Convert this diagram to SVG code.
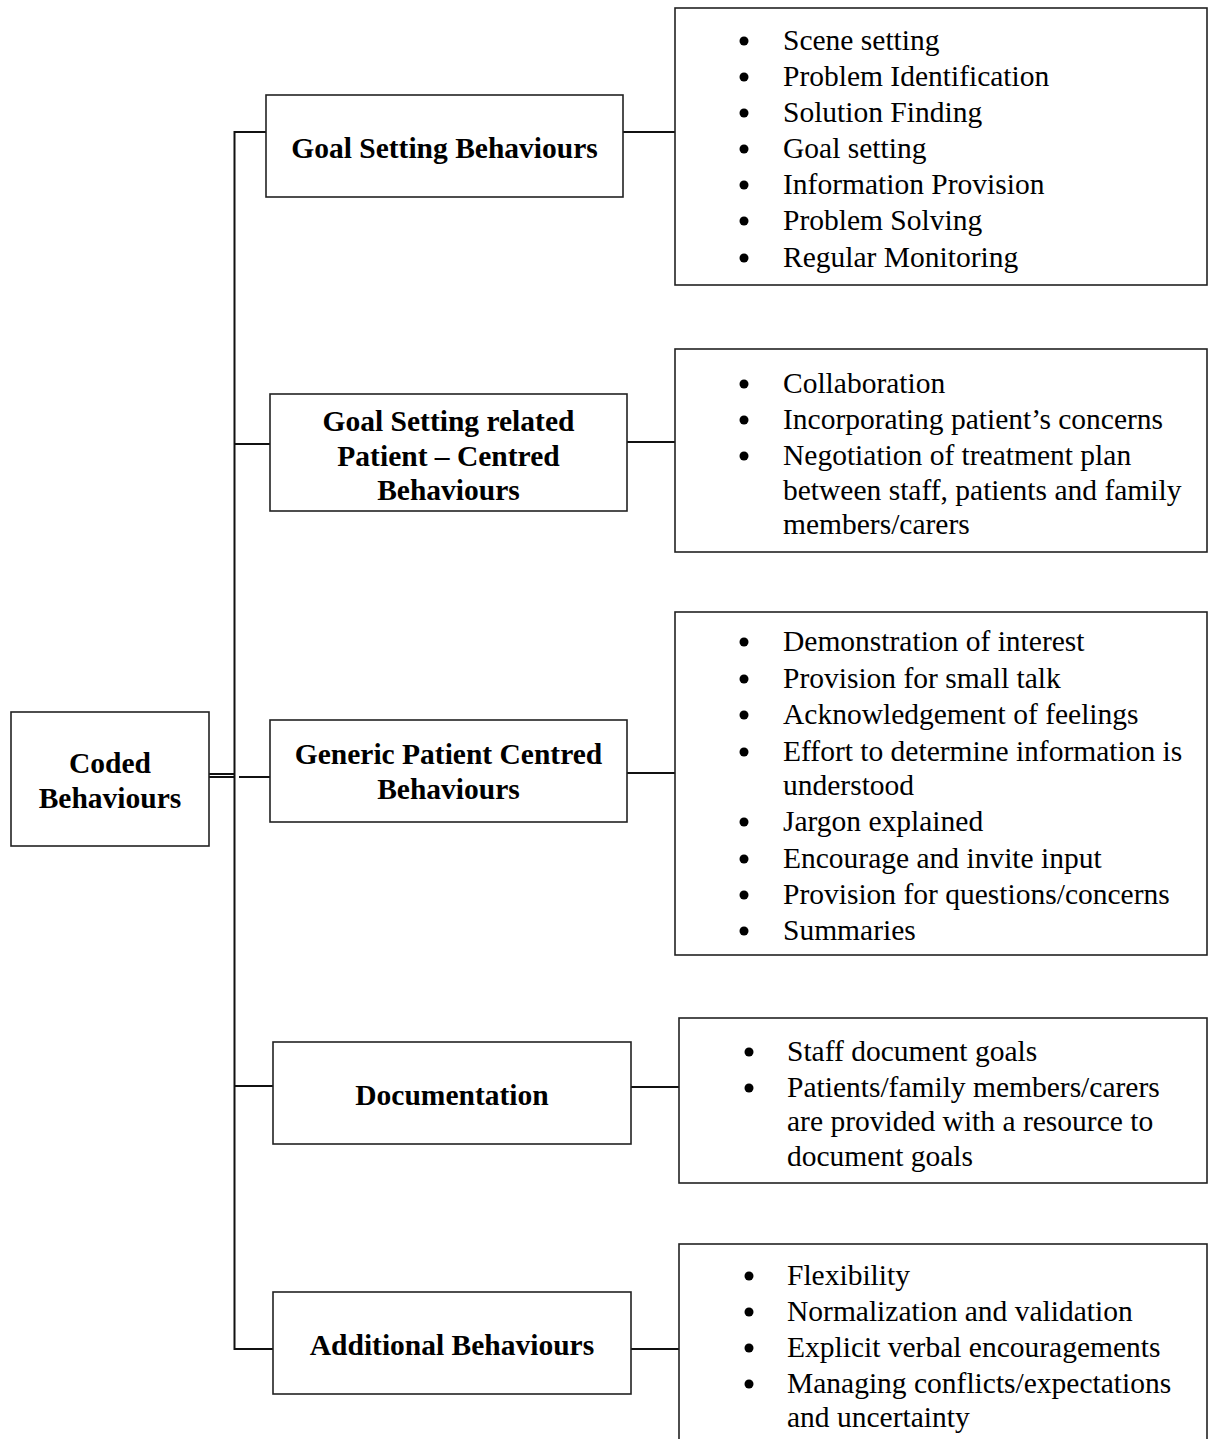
<svg xmlns="http://www.w3.org/2000/svg" width="1208" height="1439" viewBox="0 0 1208 1439">
<style>
.box{fill:#fff;stroke:#222;stroke-width:1.6}
.ln{stroke:#111;stroke-width:2;fill:none}
.t{font-family:"Liberation Serif","Times New Roman",serif;font-size:29.5px;fill:#000}
.b{font-weight:bold;text-anchor:middle}
.dot{fill:#000}
</style>
<rect width="1208" height="1439" fill="#fff"/>
<g id="connectors">
<line class="ln" x1="234.5" y1="131" x2="234.5" y2="1350"/>
<line class="ln" x1="234" y1="132" x2="266" y2="132"/>
<line class="ln" x1="623" y1="132" x2="675" y2="132"/>
<line class="ln" x1="234" y1="444" x2="270" y2="444"/>
<line class="ln" x1="627" y1="442" x2="675" y2="442"/>
<line class="ln" x1="209" y1="774" x2="235" y2="774"/>
<line class="ln" x1="209" y1="777" x2="235" y2="777"/>
<line class="ln" x1="239" y1="777" x2="270" y2="777"/>
<line class="ln" x1="627" y1="773" x2="675" y2="773"/>
<line class="ln" x1="234" y1="1086" x2="273" y2="1086"/>
<line class="ln" x1="631" y1="1087" x2="679" y2="1087"/>
<line class="ln" x1="234" y1="1349" x2="273" y2="1349"/>
<line class="ln" x1="631" y1="1349" x2="679" y2="1349"/>
</g>
<g id="coded">
<rect class="box" x="11" y="712" width="198" height="134"/>
<text class="t b" x="110" y="773">Coded</text>
<text class="t b" x="110" y="808">Behaviours</text>
</g>
<g id="goal-setting">
<rect class="box" x="266" y="95" width="357" height="102"/>
<text class="t b" x="444.5" y="158">Goal Setting Behaviours</text>
</g>
<g id="goal-setting-list">
<rect class="box" x="675" y="8" width="532" height="277"/>
<g class="dot"><circle cx="744" cy="41" r="4.5"/><circle cx="744" cy="77" r="4.5"/><circle cx="744" cy="113" r="4.5"/><circle cx="744" cy="149" r="4.5"/><circle cx="744" cy="185" r="4.5"/><circle cx="744" cy="221" r="4.5"/><circle cx="744" cy="258" r="4.5"/></g>
<text class="t" x="783" y="50">Scene setting</text>
<text class="t" x="783" y="86">Problem Identification</text>
<text class="t" x="783" y="122">Solution Finding</text>
<text class="t" x="783" y="158">Goal setting</text>
<text class="t" x="783" y="194">Information Provision</text>
<text class="t" x="783" y="230">Problem Solving</text>
<text class="t" x="783" y="267">Regular Monitoring</text>
</g>
<g id="goal-related">
<rect class="box" x="270" y="394" width="357" height="117"/>
<text class="t b" x="448.5" y="431">Goal Setting related</text>
<text class="t b" x="448.5" y="466">Patient – Centred</text>
<text class="t b" x="448.5" y="500">Behaviours</text>
</g>
<g id="goal-related-list">
<rect class="box" x="675" y="349" width="532" height="203"/>
<g class="dot"><circle cx="744" cy="384" r="4.5"/><circle cx="744" cy="420" r="4.5"/><circle cx="744" cy="456" r="4.5"/></g>
<text class="t" x="783" y="393">Collaboration</text>
<text class="t" x="783" y="429">Incorporating patient’s concerns</text>
<text class="t" x="783" y="465">Negotiation of treatment plan</text>
<text class="t" x="783" y="500">between staff, patients and family</text>
<text class="t" x="783" y="534">members/carers</text>
</g>
<g id="generic">
<rect class="box" x="270" y="720" width="357" height="102"/>
<text class="t b" x="448.5" y="764">Generic Patient Centred</text>
<text class="t b" x="448.5" y="799">Behaviours</text>
</g>
<g id="generic-list">
<rect class="box" x="675" y="612" width="532" height="343"/>
<g class="dot"><circle cx="744" cy="642" r="4.5"/><circle cx="744" cy="679" r="4.5"/><circle cx="744" cy="715" r="4.5"/><circle cx="744" cy="752" r="4.5"/><circle cx="744" cy="822" r="4.5"/><circle cx="744" cy="859" r="4.5"/><circle cx="744" cy="895" r="4.5"/><circle cx="744" cy="931" r="4.5"/></g>
<text class="t" x="783" y="651">Demonstration of interest</text>
<text class="t" x="783" y="688">Provision for small talk</text>
<text class="t" x="783" y="724">Acknowledgement of feelings</text>
<text class="t" x="783" y="761">Effort to determine information is</text>
<text class="t" x="783" y="795">understood</text>
<text class="t" x="783" y="831">Jargon explained</text>
<text class="t" x="783" y="868">Encourage and invite input</text>
<text class="t" x="783" y="904">Provision for questions/concerns</text>
<text class="t" x="783" y="940">Summaries</text>
</g>
<g id="documentation">
<rect class="box" x="273" y="1042" width="358" height="102"/>
<text class="t b" x="452" y="1105">Documentation</text>
</g>
<g id="documentation-list">
<rect class="box" x="679" y="1018" width="528" height="165"/>
<g class="dot"><circle cx="749" cy="1052" r="4.5"/><circle cx="749" cy="1088" r="4.5"/></g>
<text class="t" x="787" y="1061">Staff document goals</text>
<text class="t" x="787" y="1097">Patients/family members/carers</text>
<text class="t" x="787" y="1131">are provided with a resource to</text>
<text class="t" x="787" y="1166">document goals</text>
</g>
<g id="additional">
<rect class="box" x="273" y="1292" width="358" height="102"/>
<text class="t b" x="452" y="1355">Additional Behaviours</text>
</g>
<g id="additional-list">
<rect class="box" x="679" y="1244" width="528" height="210"/>
<g class="dot"><circle cx="749" cy="1276" r="4.5"/><circle cx="749" cy="1312" r="4.5"/><circle cx="749" cy="1348" r="4.5"/><circle cx="749" cy="1384" r="4.5"/></g>
<text class="t" x="787" y="1285">Flexibility</text>
<text class="t" x="787" y="1321">Normalization and validation</text>
<text class="t" x="787" y="1357">Explicit verbal encouragements</text>
<text class="t" x="787" y="1393">Managing conflicts/expectations</text>
<text class="t" x="787" y="1427">and uncertainty</text>
</g>
</svg>
